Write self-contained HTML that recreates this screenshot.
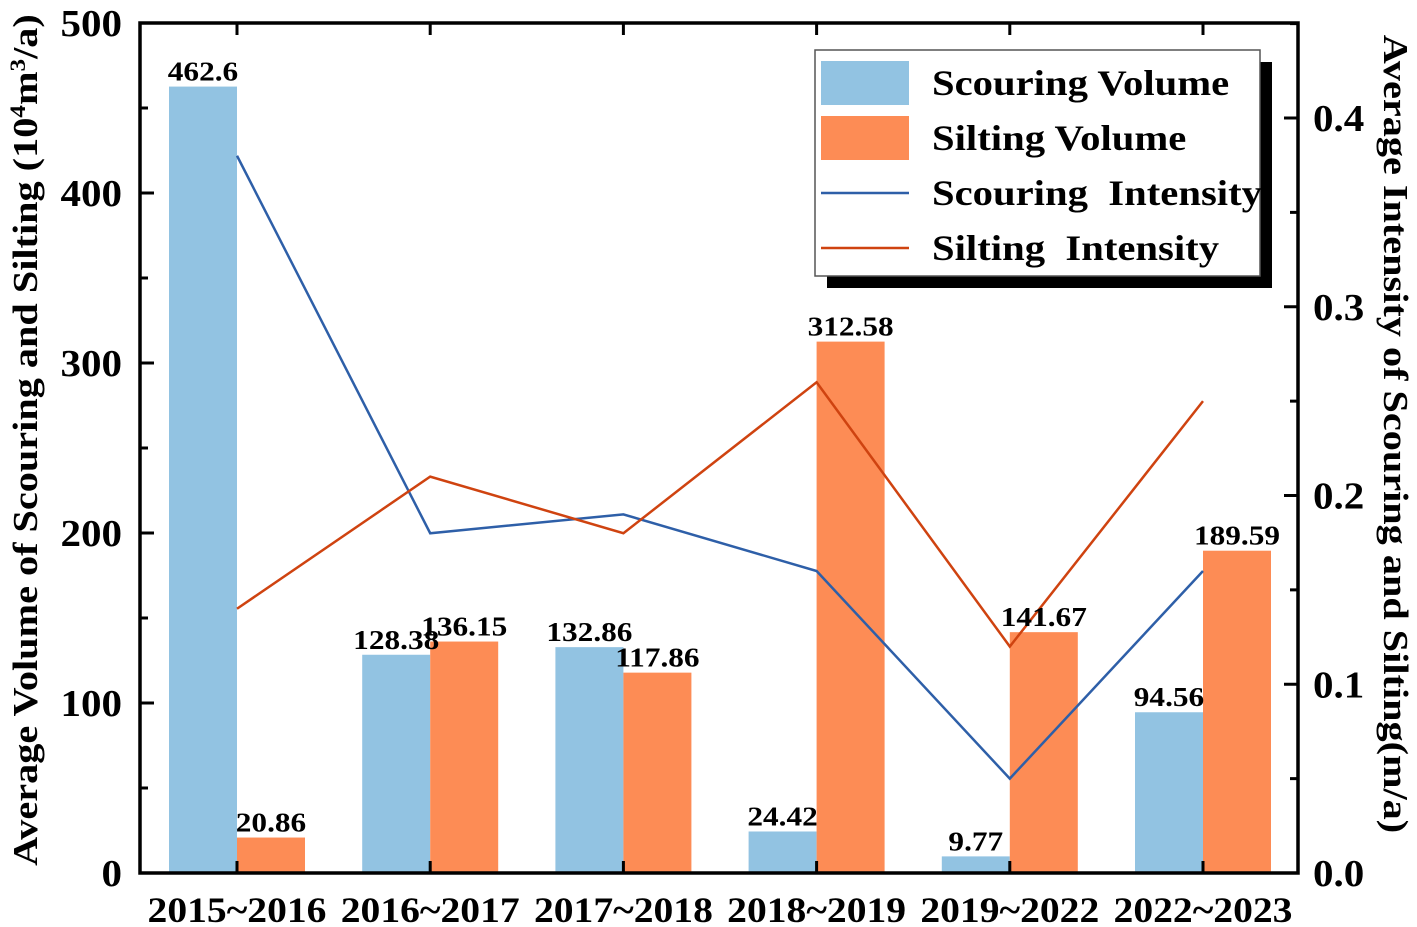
<!DOCTYPE html>
<html><head><meta charset="utf-8"><style>
body{margin:0;background:#fff}
svg{display:block;font-family:"Liberation Serif",serif;font-weight:bold}
</style></head><body>
<svg id="c" width="1417" height="927"></svg>
<script>
const categories=["2015~2016","2016~2017","2017~2018","2018~2019","2019~2022","2022~2023"];
const scourVol=[462.6,128.38,132.86,24.42,9.77,94.56];
const siltVol=[20.86,136.15,117.86,312.58,141.67,189.59];
const scourInt=[0.38,0.18,0.19,0.16,0.05,0.16];
const siltInt=[0.14,0.21,0.18,0.26,0.12,0.25];
const leftTicks=[0,100,200,300,400,500];
const rightTicks=["0.0","0.1","0.2","0.3","0.4"];

const L=140,R=1298,T=23,B=873;
const yL=v=>B-(B-T)*v/500;
const yR=v=>B-v*1887.5;
const xC=i=>237+i*193.2;
const bw=68;
const NS="http://www.w3.org/2000/svg";
const svg=document.getElementById('c');
function mk(t,a,txt){const e=document.createElementNS(NS,t);for(const k in a)e.setAttribute(k,a[k]);if(txt!=null)e.textContent=txt;svg.appendChild(e);return e;}
function txt(x,y,anchor,size,content,rot,sx){
  return mk('text',{transform:'translate('+x+','+y+') rotate('+rot+') scale('+sx+',1)',x:0,y:0,'text-anchor':anchor,'font-size':size},content);
}

categories.forEach((c,i)=>{
  let e=mk('rect',{x:xC(i)-bw,y:yL(scourVol[i]),width:bw,height:B-yL(scourVol[i]),fill:'#92c3e2'});
  
  
  e=mk('rect',{x:xC(i),y:yL(siltVol[i]),width:bw,height:B-yL(siltVol[i]),fill:'#fd8c55'});
  
  
});
function line(arr,col,name){
  const p=mk('polyline',{points:arr.map((v,i)=>xC(i)+','+yR(v)).join(' '),fill:'none',stroke:col,'stroke-width':2.5});
  
  
}
line(scourInt,'#2e5fa8','scouring-intensity-line');
line(siltInt,'#cf4310','silting-intensity-line');
categories.forEach((c,i)=>{
  let e=txt(xC(i)-bw/2,yL(scourVol[i])-6,'middle',27,String(scourVol[i]),0,1.16);
  
  
  e=txt(xC(i)+bw/2,yL(siltVol[i])-6,'middle',27,String(siltVol[i]),0,1.16);
  
  
  e=txt(xC(i),922,'middle',36,c,0,1.1);
  
  
  mk('line',{x1:xC(i),x2:xC(i),y1:B,y2:B-12,stroke:'#000','stroke-width':3});
  mk('line',{x1:xC(i),x2:xC(i),y1:T,y2:T+12,stroke:'#000','stroke-width':3});
});
leftTicks.forEach(v=>{
  const y=yL(v);
  mk('line',{x1:L,x2:L+14,y1:y,y2:y,stroke:'#000','stroke-width':3});
  if(v<500)mk('line',{x1:L,x2:L+8,y1:yL(v+50),y2:yL(v+50),stroke:'#000','stroke-width':3});
  const e=txt(122,y+13,'end',38,String(v),0,1.08);
  
  
});
rightTicks.forEach(s=>{
  const v=parseFloat(s),y=yR(v);
  mk('line',{x1:R,x2:R-14,y1:y,y2:y,stroke:'#000','stroke-width':3});
  mk('line',{x1:R,x2:R-8,y1:yR(v+0.05),y2:yR(v+0.05),stroke:'#000','stroke-width':3});
  const e=txt(1313,y+13,'start',38,s,0,1.08);
  
  
});
let f=mk('rect',{x:L,y:T,width:R-L,height:B-T,fill:'none',stroke:'#000','stroke-width':3.5});


let t=txt(37,440,'middle',35,'',-90,1.15);
t.innerHTML='Average Volume of Scouring and Silting (10<tspan baseline-shift="super" font-size="22">4</tspan>m<tspan baseline-shift="super" font-size="22">3</tspan>/a)';


t=txt(1384,434,'middle',35,'Average Intensity of Scouring and Silting(m/a)',90,1.15);


// legend
mk('rect',{x:1260,y:62,width:12,height:226,fill:'#000'});
mk('rect',{x:827,y:276,width:445,height:12,fill:'#000'});
let lg=mk('rect',{x:815,y:50,width:445,height:226,fill:'#fff',stroke:'#555','stroke-width':1.5});


const items=[['Scouring Volume','bar','#92c3e2'],['Silting Volume','bar','#fd8c55'],['Scouring  Intensity','line','#2e5fa8'],['Silting  Intensity','line','#cf4310']];
items.forEach((it,i)=>{
  const cy=83+i*55;
  if(it[1]=='bar')mk('rect',{x:821,y:cy-22,width:88,height:44,fill:it[2]});
  else mk('line',{x1:821,x2:909,y1:cy,y2:cy,stroke:it[2],'stroke-width':2.5});
  const e=txt(932,cy+12,'start',36,it[0],0,1.13);
  e.style.whiteSpace='pre';
  
  
});
</script>
</body></html>
